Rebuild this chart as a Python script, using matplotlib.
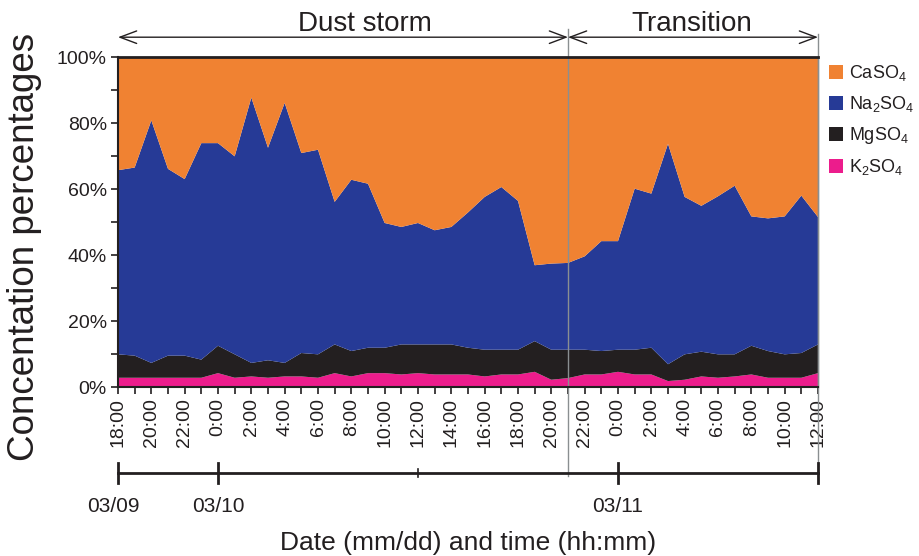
import numpy as np
import matplotlib
matplotlib.use('Agg')
import matplotlib.pyplot as plt
from matplotlib.transforms import blended_transform_factory

plt.rcParams['font.family'] = ['Liberation Sans', 'DejaVu Sans']
plt.rcParams['mathtext.fontset'] = 'custom'
plt.rcParams['mathtext.rm'] = 'Liberation Sans'
plt.rcParams['mathtext.default'] = 'regular'

# hourly samples, 03/09 18:00 -> 03/11 12:00
hours = np.arange(43)

k2so4 = [2.8, 2.8, 2.8, 2.8, 2.8, 2.8, 4.2, 2.8, 3.2, 2.8, 3.2, 3.2, 2.8, 4.2,
         3.2, 4.2, 4.2, 3.8, 4.2, 3.8, 3.8, 3.8, 3.2, 3.8, 3.8, 4.6, 2.2, 2.7,
         3.8, 3.8, 4.6, 3.8, 3.8, 1.8, 2.2, 3.2, 2.8, 3.2, 3.8, 2.8, 2.8, 2.8, 4.2]
mgso4 = [7.1, 6.7, 4.5, 6.7, 6.7, 5.5, 8.3, 7.1, 4.1, 5.3, 4.1, 7.1, 7.1, 8.7,
         7.7, 7.7, 7.7, 9.1, 8.7, 9.1, 9.1, 8.1, 8.1, 7.5, 7.5, 9.3, 9.1, 8.6,
         7.5, 7.1, 6.7, 7.5, 8.1, 5.1, 7.7, 7.5, 7.1, 6.7, 8.7, 8.1, 7.1, 7.5, 8.7]
na2so4 = [55.8, 57.0, 73.5, 56.6, 53.5, 65.6, 61.4, 60.0, 80.4, 64.4, 78.8, 60.6, 62.0, 43.2,
          51.9, 49.7, 37.8, 35.6, 36.8, 34.6, 35.6, 41.0, 46.3, 49.3, 45.1, 23.0, 26.1, 26.3,
          28.3, 33.3, 32.9, 48.8, 46.7, 66.8, 47.7, 44.2, 47.9, 51.1, 39.2, 40.2, 41.8, 47.7, 38.6]
caso4 = [34.3, 33.5, 19.2, 33.9, 37.0, 26.1, 26.1, 30.1, 12.3, 27.5, 13.9, 29.1, 28.1, 43.9,
         37.2, 38.4, 50.3, 51.5, 50.3, 52.5, 51.5, 47.1, 42.4, 39.4, 43.6, 63.1, 62.6, 62.4,
         60.4, 55.8, 55.8, 39.9, 41.4, 26.3, 42.4, 45.1, 42.2, 39.0, 48.3, 48.9, 48.3, 42.0, 48.5]

time_labels = ['18:00', '20:00', '22:00', '0:00', '2:00', '4:00', '6:00', '8:00',
               '10:00', '12:00', '14:00', '16:00', '18:00', '20:00', '22:00', '0:00',
               '2:00', '4:00', '6:00', '8:00', '10:00', '12:00']
date_labels = ['03/09', '03/10', '03/11']
date_hours = [0, 6, 30]
period_names = ['Dust storm', 'Transition']
period_edges = [0, 27, 42]

colors = ['#EC1C8C', '#231F20', '#263A96', '#F08232']
names = ['K$_2$SO$_4$', 'MgSO$_4$', 'Na$_2$SO$_4$', 'CaSO$_4$']

fig = plt.figure(figsize=(9.19, 5.56), dpi=100)
ax = fig.add_axes([118/919, 1-387/556, 700/919, 330/556])

polys = ax.stackplot(hours, k2so4, mgso4, na2so4, caso4, colors=colors, linewidth=0)
ax.set_xlim(0, 42)
ax.set_ylim(0, 100)

# ticks
ax.set_xticks(hours)
lbls = []
for h in hours:
    lbls.append(time_labels[h // 2] if h % 2 == 0 else '')
ax.set_xticklabels(lbls, rotation=90, fontsize=14, color='#231F20')
ax.set_yticks(np.arange(0, 101, 20))
ax.set_yticklabels(['%d%%' % v for v in range(0, 101, 20)], fontsize=14, color='#231F20')
ax.set_yticks(np.arange(10, 100, 20), minor=True)
ax.tick_params(axis='both', which='both', direction='out', length=5, width=1.2, color='#231F20')
ax.tick_params(axis='x', pad=3)
ax.tick_params(axis='y', pad=3)

for s in ['left', 'bottom', 'top']:
    ax.spines[s].set_color('#231F20')
    ax.spines[s].set_linewidth(1.5)
ax.spines['top'].set_linewidth(2)
ax.spines['right'].set_color('#8a8f91')
ax.spines['right'].set_linewidth(1)

trans = blended_transform_factory(ax.transData, ax.transAxes)

# period arrows and labels
arrow_y = 1.06
for i in range(2):
    ax.annotate('', xy=(period_edges[i], arrow_y), xytext=(period_edges[i+1], arrow_y),
                xycoords=trans, textcoords=trans,
                arrowprops=dict(arrowstyle='<->,head_length=1.2,head_width=0.45',
                                lw=1, color='#231F20', shrinkA=0, shrinkB=0))
ax.text(14.8, 1.1, period_names[0], transform=trans, ha='center', va='center', fontsize=20, color='#231F20')
ax.text(34.4, 1.1, period_names[1], transform=trans, ha='center', va='center', fontsize=20, color='#231F20')

# vertical separators
ax.plot([27, 27], [-0.27, 1.085], transform=trans, color='#8a8f91', lw=1, clip_on=False)
ax.plot([42, 42], [-0.29, 1.07], transform=trans, color='#8a8f91', lw=1, clip_on=False)

# date bar
bar_y = -0.261
ax.plot([0, 42], [bar_y, bar_y], transform=trans, color='#231F20', lw=2, clip_on=False)
for h in date_hours + [42]:
    ax.plot([h, h], [bar_y - 0.03, bar_y + 0.03], transform=trans, color='#231F20', lw=2, clip_on=False)
ax.plot([18, 18], [bar_y - 0.012, bar_y + 0.012], transform=trans, color='#231F20', lw=1.2, clip_on=False)
for h, d in zip(date_hours, date_labels):
    ax.text(h - 0.3 if h == 0 else h, -0.363, d, transform=trans, ha='center', va='center',
            fontsize=15, color='#231F20')

fig.text(468/919, 1-543/556, 'Date (mm/dd) and time (hh:mm)', ha='center', va='center',
         fontsize=19, color='#231F20')
fig.text(25/919, 1-247/556, 'Concentation percentages', rotation=90, ha='center', va='center',
         fontsize=26.5, color='#231F20')

# legend
leg = ax.legend(polys[::-1], names[::-1], loc='upper left', bbox_to_anchor=(1.0, 1.015),
                frameon=False, fontsize=13, handlelength=0.8, handleheight=0.8,
                handletextpad=0.3, labelspacing=0.62, borderaxespad=0.2)
for t in leg.get_texts():
    t.set_color('#231F20')

fig.savefig('out.png', dpi=100)
